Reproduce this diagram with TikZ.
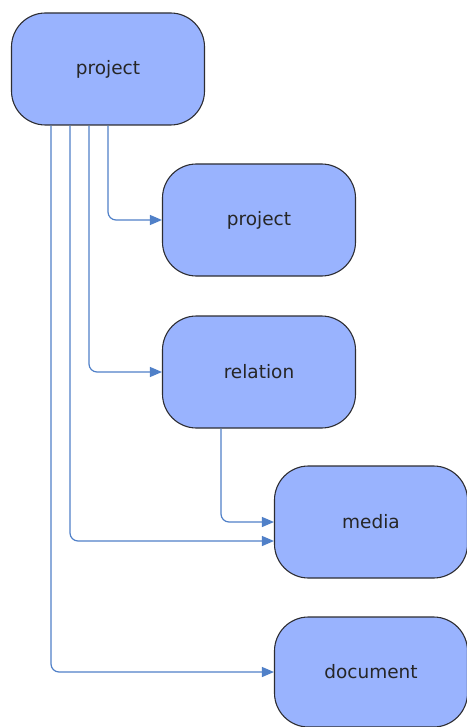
\documentclass[tikz,border=0pt]{standalone}
\usepackage{fontspec}
\setmainfont{DejaVu Sans}
\usetikzlibrary{arrows.meta,calc}
\definecolor{boxfill}{RGB}{153,179,254}
\definecolor{boxdraw}{RGB}{45,45,50}
\definecolor{conncol}{RGB}{80,128,200}
\tikzset{
  ent/.style={draw=boxdraw, line width=1.1pt, fill=boxfill, rounded corners=34pt,
    minimum width=193pt, minimum height=112pt, inner sep=0pt,
    font=\fontsize{18.5}{22}\selectfont, text=black!85},
  conn/.style={draw=conncol, line width=1.2pt, rounded corners=8pt,
    -{Triangle[length=12pt,width=10pt]}}
}
\begin{document}
\begin{tikzpicture}[x=1pt,y=-1pt]
\useasboundingbox (0,0) rectangle (466,727);
\node[ent] (top) at (108,69) {project};
\node[ent] (proj) at (259,220) {project};
\node[ent] (rel) at (259,372) {relation};
\node[ent] (media) at (371,522) {media};
\node[ent, minimum height=110pt] (doc) at (371,672) {document};
\coordinate (m2) at ($(media.west)+(0,19)$);
\draw[conn] (top.south -| 108,0) |- (proj.west);
\draw[conn] (top.south -| 89,0) |- (rel.west);
\draw[conn] (top.south -| 70,0) |- (m2);
\draw[conn] (top.south -| 51,0) |- (doc.west);
\draw[conn] (rel.south -| 221,0) |- (media.west);
\end{tikzpicture}
\end{document}
